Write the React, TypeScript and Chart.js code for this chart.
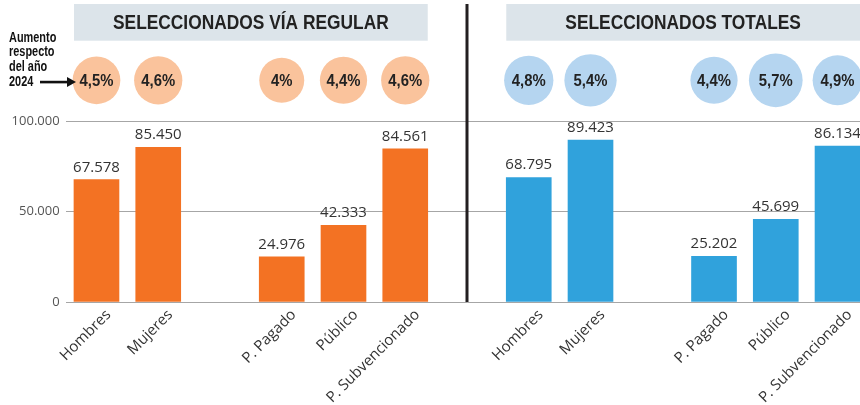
import React, { useEffect, useRef } from 'react';
import { Chart, registerables } from 'chart.js';

Chart.register(...registerables);

// ---- data ----
const groupCategories = ['Hombres', 'Mujeres', 'P. Pagado', 'Público', 'P. Subvencionado'];
const regularValues = [67578, 85450, 24976, 42333, 84561];
const totalValues = [68795, 89423, 25202, 45699, 86134];
const regularIncrease = [4.5, 4.6, 4, 4.4, 4.6];
const totalIncrease = [4.8, 5.4, 4.4, 5.7, 4.9];
const groupTitles = ['SELECCIONADOS VÍA REGULAR', 'SELECCIONADOS TOTALES'];
const yTickValues = [0, 50000, 100000];
const noteLines = ['Aumento', 'respecto', 'del año', '2024'];

// ---- layout of slots on the category axis ----
const SLOT_COUNT = 13;
const groupSlots = [
  [0, 1, 3, 4, 5],
  [7, 8, 10, 11, 12],
];
const DIVIDER_SLOT = 6;
const BADGE_Y = 122500;

const ORANGE = '#f37223';
const BLUE = '#30a2dc';
const PEACH = '#fac39c';
const LIGHTBLUE = '#b5d5f0';
const HEADER_BG = '#dce4ea';
const BOLDFACE = '"Liberation Sans", Arial, sans-serif';
const SANS = '"Open Sans", "Noto Sans", sans-serif';

const fmt = (v: number) => String(v).replace(/\B(?=(\d{3})+(?!\d))/g, '.');
const fmtPct = (v: number) => String(v).replace('.', ',') + '%';

const labels: string[] = Array(SLOT_COUNT).fill('');
const regularData: (number | null)[] = Array(SLOT_COUNT).fill(null);
const totalData: (number | null)[] = Array(SLOT_COUNT).fill(null);
const pctBySlot: (number | null)[] = Array(SLOT_COUNT).fill(null);
const pctColor: string[] = Array(SLOT_COUNT).fill('rgba(0,0,0,0)');
groupSlots[0].forEach((s, i) => {
  labels[s] = groupCategories[i];
  regularData[s] = regularValues[i];
  pctBySlot[s] = regularIncrease[i];
  pctColor[s] = PEACH;
});
groupSlots[1].forEach((s, i) => {
  labels[s] = groupCategories[i];
  totalData[s] = totalValues[i];
  pctBySlot[s] = totalIncrease[i];
  pctColor[s] = LIGHTBLUE;
});
const bubbleData = pctBySlot.map((p, i) => ({
  x: i,
  y: p === null ? null : BADGE_Y,
  r: p === null ? 0 : 11.25 * Math.sqrt(p),
}));

function narrowText(ctx: any, text: string, x: number, y: number, sx: number) {
  ctx.save();
  ctx.translate(x, y);
  ctx.scale(sx, 1);
  ctx.fillText(text, 0, 0);
  ctx.restore();
}

const decorPlugin = {
  id: 'decor',
  beforeDatasetsDraw(chart: any) {
    const ctx = chart.ctx;
    const xs = chart.scales.x;
    const barMeta = chart.getDatasetMeta(0);
    const half = (barMeta.data[0]?.width || 45) / 2;
    ctx.save();
    groupSlots.forEach((slots, g) => {
      const l = xs.getPixelForValue(slots[0]) - half;
      const r = xs.getPixelForValue(slots[slots.length - 1]) + half;
      ctx.fillStyle = HEADER_BG;
      ctx.fillRect(l, 4, r - l, 36.7);
      ctx.fillStyle = '#222';
      ctx.font = `bold 19.5px ${BOLDFACE}`;
      ctx.textAlign = 'center';
      ctx.textBaseline = 'alphabetic';
      narrowText(ctx, groupTitles[g], (l + r) / 2, 29, 0.89);
    });
    // divider
    const dx = xs.getPixelForValue(DIVIDER_SLOT);
    ctx.fillStyle = '#231f20';
    ctx.fillRect(dx - 1.5, 4, 3, chart.scales.y.getPixelForValue(0) - 4);
    ctx.restore();
  },
  afterDatasetsDraw(chart: any) {
    const ctx = chart.ctx;
    ctx.save();
    // value labels
    ctx.font = `15px ${SANS}`;
    ctx.fillStyle = '#333';
    ctx.textAlign = 'center';
    ctx.textBaseline = 'alphabetic';
    [0, 1].forEach((di) => {
      const meta = chart.getDatasetMeta(di);
      const ds = chart.data.datasets[di];
      meta.data.forEach((el: any, i: number) => {
        const v = ds.data[i];
        if (v === null || v === undefined) return;
        ctx.fillText(fmt(v), el.x, el.y - 8);
      });
    });
    // badge text
    const bMeta = chart.getDatasetMeta(2);
    ctx.font = `bold 16.5px ${BOLDFACE}`;
    ctx.fillStyle = '#222';
    ctx.textBaseline = 'middle';
    let badgeY = 80;
    bMeta.data.forEach((el: any, i: number) => {
      const p = pctBySlot[i];
      if (p === null || el.skip) return;
      badgeY = el.y;
      narrowText(ctx, fmtPct(p), el.x, el.y + 1, 0.9);
    });
    // note
    ctx.font = `bold 14px ${BOLDFACE}`;
    ctx.textAlign = 'left';
    ctx.textBaseline = 'alphabetic';
    ctx.fillStyle = '#111';
    const baselines = [41.5, 56, 70.5, 85.5];
    noteLines.forEach((t, i) => narrowText(ctx, t, 9, baselines[i], 0.78));
    // arrow
    const ay = badgeY + 1.8;
    ctx.strokeStyle = '#111';
    ctx.lineWidth = 2.6;
    ctx.beginPath();
    ctx.moveTo(40, ay);
    ctx.lineTo(69, ay);
    ctx.stroke();
    ctx.fillStyle = '#111';
    ctx.beginPath();
    ctx.moveTo(76, ay);
    ctx.lineTo(67, ay - 5);
    ctx.lineTo(67, ay + 5);
    ctx.closePath();
    ctx.fill();
    ctx.restore();
  },
};

export default function App() {
  const ref = useRef<HTMLCanvasElement | null>(null);
  useEffect(() => {
    if (!ref.current) return;
    const chart = new Chart(ref.current, {
      data: {
        labels,
        datasets: [
          {
            type: 'bar',
            data: regularData,
            backgroundColor: ORANGE,
            barThickness: 45,
            grouped: false,
          } as any,
          {
            type: 'bar',
            data: totalData,
            backgroundColor: BLUE,
            barThickness: 45,
            grouped: false,
          } as any,
          {
            type: 'bubble',
            data: bubbleData,
            backgroundColor: pctColor,
            borderWidth: 0,
            hoverBorderWidth: 0,
          } as any,
        ],
      },
      options: {
        animation: false,
        responsive: true,
        maintainAspectRatio: false,
        events: [],
        layout: { autoPadding: false, padding: { top: 12.4, right: 11.6, left: 0, bottom: 0 } },
        plugins: { legend: { display: false }, tooltip: { enabled: false } },
        scales: {
          x: {
            type: 'category',
            offset: true,
            grid: { display: false },
            border: { display: false },
            ticks: {
              autoSkip: false,
              maxRotation: 45,
              minRotation: 45,
              color: '#333',
              font: { family: SANS, size: 15 },
              padding: -4,
              labelOffset: 12,
            },
            afterFit: (s: any) => {
              s.height = 103;
              s.paddingLeft = 0;
              s.paddingRight = 0;
            },
          },
          y: {
            type: 'linear',
            min: 0,
            max: 160000,
            grid: { color: '#a6a6a6', drawTicks: false, lineWidth: 1 },
            border: { display: false },
            ticks: {
              stepSize: 50000,
              padding: 6,
              color: '#555',
              font: { family: SANS, size: 13 },
              callback: (v: any) => fmt(Number(v)),
            },
            afterBuildTicks: (s: any) => {
              s.ticks = yTickValues.map((v) => ({ value: v }));
            },
            afterFit: (s: any) => {
              s.width = 65.6;
              s.paddingTop = 0;
              s.paddingBottom = 0;
            },
          },
        },
      } as any,
      plugins: [decorPlugin],
    });
    return () => chart.destroy();
  }, []);
  return (
    <div style={{ position: 'fixed', left: 0, top: 0, width: 860, height: 405, overflow: 'hidden', background: '#fff' }}>
      <div style={{ position: 'relative', width: 880, height: 405 }}>
        <canvas ref={ref} />
      </div>
    </div>
  );
}
